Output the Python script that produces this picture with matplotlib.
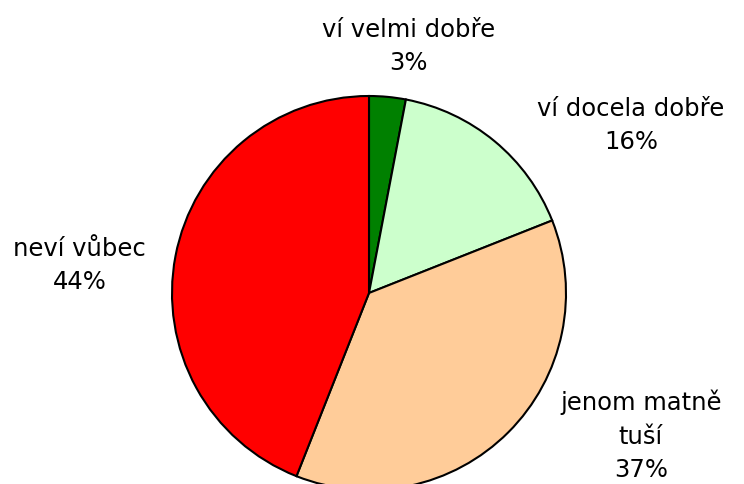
import matplotlib.pyplot as plt

# odpovědi a podíly (v %)
labels = ['ví velmi dobře', 'ví docela dobře', 'jenom matně\ntuší', 'neví vůbec']
shares = [3, 16, 37, 44]
colors = ['#008000', '#CCFFCC', '#FFCC99', '#FF0000']

# kam dát popisky (v souřadnicích osy, poloměr = 1)
label_pos = [(0.20, 1.25), (1.33, 0.85), (1.38, -0.725), (-1.47, 0.14)]

fig = plt.figure(figsize=(7.44, 4.84), dpi=100)
# střed koláče ~ (369, 293) px, poloměr ~197 px
ax = fig.add_axes([(369 - 197) / 744, (191 - 197) / 484, 394 / 744, 394 / 484])

wedges, _ = ax.pie(shares, colors=colors, startangle=90, counterclock=False,
                   wedgeprops=dict(edgecolor='black', linewidth=1.5))
for w in wedges:
    w.set_clip_on(False)

for lab, val, (x, y) in zip(labels, shares, label_pos):
    ax.text(x, y, f'{lab}\n{val}%', ha='center', va='center', fontsize=17.5,
            family='DejaVu Sans', linespacing=1.5)

ax.set_xlim(-1, 1)
ax.set_ylim(-1, 1)
ax.set_aspect('equal')
ax.axis('off')

plt.savefig('out.png', dpi=100)
